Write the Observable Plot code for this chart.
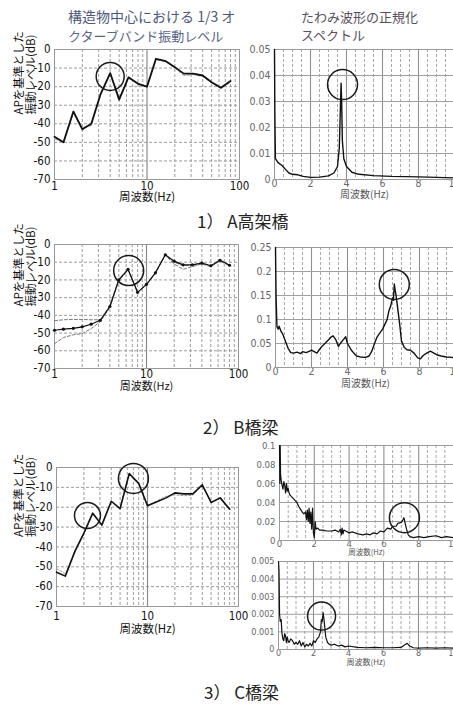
<!DOCTYPE html>
<html><head><meta charset="utf-8">
<script src="https://cdn.jsdelivr.net/npm/d3@7"></script>
<script src="https://cdn.jsdelivr.net/npm/@observablehq/plot@0.6"></script>
<style>
html,body{margin:0;padding:0;background:#fff;width:453px;height:704px;overflow:hidden;}
#root{position:relative;width:453px;height:704px;overflow:hidden;background:#fff;}
.p{position:absolute;}
.t{position:absolute;font-family:"Noto Sans CJK JP",sans-serif;white-space:nowrap;line-height:1;}
</style></head><body><div id="root"></div>
<script>
// ---------- data ----------
const bandHz = [1,1.25,1.6,2,2.5,3.15,4,5,6.3,8,10,12.5,16,20,25,31.5,40,50,63,80];
const levelA    = [-47,-50,-33.4,-43,-40,-24,-12.7,-27,-15,-18.5,-20,-5,-6.3,-9.5,-13,-13,-14,-17.6,-20.6,-17];
const levelAalt = [-48,-50,-34,-42,-41,-24.5,-13,-26,-15.5,-18,-20,-5.5,-6.5,-10,-14,-13.5,-14.5,-18,-21,-17.5];
const levelB      = [-48.4,-47.8,-47.3,-46.5,-45,-42.8,-35,-20,-14,-27,-22.5,-16,-5.8,-9.4,-11.5,-11.5,-10.5,-12,-8.9,-11.7];
const levelBupper = [-43,-42.5,-42.3,-42.3,-42.5,-42.5,-34.5,-19.5,-14,-27,-22.5,-16,-5.8,-10,-12,-11.5,-10.5,-12,-8.9,-11.7];
const levelBlower = [-56,-52.5,-51,-50.3,-47.5,-43.5,-35.5,-20.5,-14.5,-27,-22.5,-16,-6.2,-11,-14,-12.5,-11,-12.5,-9.3,-12];
const levelC    = [-52.7,-54.7,-42,-33,-23,-29,-17,-20.7,-3,-8,-19.3,-17.4,-15.3,-12.8,-13.3,-13.3,-8.7,-17.6,-15.3,-21];
const levelCalt = [-51,-53.5,-42.5,-33.5,-23.5,-28.5,-17,-20.5,-3.5,-8.5,-19,-17,-14.5,-13.8,-14.2,-14,-9,-17.5,-15.5,-21];

const dbTicks = [0,-10,-20,-30,-40,-50,-60,-70];
const logTicks = [1,10,100];
const logMinor = [2,3,4,5,6,7,8,9,20,30,40,50,60,70,80,90];
const specTicks = [0,2,4,6,8,10];
const specMajor = [2,4,6,8];
const specMinor = [0.5,1,1.5,2.5,3,3.5,4.5,5,5.5,6.5,7,7.5,8.5,9,9.5];

const ticksA = [0,0.01,0.02,0.03,0.04,0.05];
const labelsA = ["0","0.01","0.02","0.03","0.04","0.05"];
const ticksB = [0,0.05,0.1,0.15,0.2,0.25];
const labelsB = ["0","0.05","0.1","0.15","0.2","0.25"];
const ticksC1 = [0,0.02,0.04,0.06,0.08,0.1];
const labelsC1 = ["0","0.02","0.04","0.06","0.08","0.1"];
const ticksC2 = [0,0.001,0.002,0.003,0.004,0.005];
const labelsC2 = ["0","0.001","0.002","0.003","0.004","0.005"];

// spectra: [frequency Hz, normalized amplitude]
const spectrumA = [[0,0.05],[0.02,0.025],[0.05,0.008],[0.2,0.0065],[0.4,0.0055],[0.6,0.004],[0.8,0.0025],[1.0,0.002],[1.3,0.0018],[1.6,0.0012],[2,0.0008],[2.5,0.0009],[3,0.0014],[3.3,0.0025],[3.5,0.005],[3.6,0.012],[3.65,0.025],[3.7,0.037],[3.73,0.03],[3.77,0.015],[3.85,0.008],[4,0.005],[4.3,0.0028],[4.7,0.002],[5.5,0.0015],[6.5,0.0012],[8,0.001],[9,0.0008],[10,0.0006]];
const spectrumB = [[0,0.25],[0.03,0.15],[0.08,0.085],[0.15,0.08],[0.2,0.086],[0.3,0.076],[0.4,0.07],[0.5,0.06],[0.6,0.05],[0.7,0.04],[0.85,0.031],[1.0,0.03],[1.2,0.032],[1.4,0.029],[1.5,0.033],[1.7,0.031],[1.9,0.034],[2.0,0.036],[2.15,0.033],[2.3,0.03],[2.45,0.038],[2.6,0.045],[2.8,0.052],[3.0,0.06],[3.1,0.064],[3.2,0.066],[3.35,0.058],[3.5,0.044],[3.6,0.05],[3.75,0.057],[3.9,0.064],[4.0,0.05],[4.2,0.037],[4.35,0.03],[4.5,0.024],[4.7,0.022],[5.0,0.021],[5.2,0.024],[5.35,0.034],[5.5,0.05],[5.65,0.064],[5.8,0.072],[5.95,0.08],[6.1,0.092],[6.2,0.1],[6.3,0.118],[6.4,0.128],[6.5,0.145],[6.55,0.14],[6.6,0.174],[6.65,0.16],[6.7,0.15],[6.8,0.12],[6.9,0.09],[7.0,0.055],[7.15,0.042],[7.3,0.037],[7.5,0.036],[7.7,0.03],[7.9,0.02],[8.05,0.018],[8.2,0.025],[8.4,0.03],[8.6,0.034],[8.8,0.03],[9.0,0.026],[9.2,0.024],[9.5,0.022],[9.8,0.021],[10,0.018]];
const spectrumC1 = [[0,0.1],[0.02,0.06],[0.04,0.1],[0.06,0.07],[0.1,0.063],[0.15,0.058],[0.2,0.054],[0.25,0.062],[0.3,0.058],[0.35,0.05],[0.4,0.06],[0.45,0.052],[0.5,0.055],[0.55,0.05],[0.6,0.048],[0.7,0.046],[0.8,0.044],[0.9,0.042],[1.0,0.04],[1.1,0.036],[1.2,0.033],[1.3,0.03],[1.4,0.028],[1.5,0.03],[1.55,0.022],[1.6,0.032],[1.65,0.02],[1.7,0.034],[1.75,0.018],[1.8,0.03],[1.85,0.012],[1.9,0.034],[1.95,0.008],[2.0,0.003],[2.05,0.02],[2.1,0.012],[2.2,0.013],[2.3,0.011],[2.5,0.011],[2.7,0.01],[3.0,0.01],[3.2,0.011],[3.4,0.009],[3.5,0.012],[3.55,0.006],[3.6,0.013],[3.65,0.007],[3.7,0.011],[3.8,0.01],[4.0,0.008],[4.2,0.009],[4.5,0.007],[4.8,0.006],[5.0,0.007],[5.2,0.006],[5.4,0.008],[5.6,0.007],[5.8,0.01],[6.0,0.009],[6.2,0.013],[6.4,0.012],[6.5,0.015],[6.7,0.015],[6.8,0.018],[7.0,0.019],[7.1,0.022],[7.15,0.024],[7.2,0.02],[7.3,0.012],[7.4,0.006],[7.5,0.004],[7.7,0.003],[8.0,0.004],[8.3,0.003],[8.6,0.004],[9.0,0.005],[9.3,0.003],[9.6,0.004],[10,0.003]];
const spectrumC2 = [[0,0.005],[0.03,0.0045],[0.06,0.002],[0.1,0.0016],[0.15,0.0017],[0.2,0.0009],[0.25,0.0006],[0.3,0.0005],[0.35,0.0009],[0.4,0.0008],[0.45,0.0004],[0.5,0.0007],[0.55,0.0005],[0.6,0.0004],[0.7,0.0006],[0.8,0.0005],[0.9,0.0003],[1.0,0.0004],[1.1,0.0003],[1.2,0.0005],[1.3,0.0002],[1.4,0.0004],[1.5,0.00015],[1.6,0.0003],[1.7,0.0002],[1.8,0.00035],[1.9,0.0002],[2.0,0.0005],[2.1,0.0004],[2.2,0.0006],[2.3,0.0007],[2.4,0.001],[2.45,0.0017],[2.5,0.0016],[2.55,0.0021],[2.6,0.0017],[2.65,0.0012],[2.7,0.0007],[2.8,0.0004],[2.9,0.0003],[3.0,0.00025],[3.2,0.0003],[3.4,0.0002],[3.6,0.00025],[3.8,0.00015],[4.0,0.0002],[4.5,0.00012],[5.0,0.0001],[5.5,0.00012],[6.0,0.0001],[6.5,0.0001],[7.0,0.00012],[7.2,0.00025],[7.35,0.00035],[7.5,0.0002],[7.7,0.0001],[8,0.00008],[8.5,0.0001],[9,0.00008],[9.5,0.0001],[10,0.00008]];

// highlighted peaks (circled)
const peakA1 = [{f:4.0, v:-14.5}];
const peakA2 = [{f:3.78, v:0.0365}];
const peakB1 = [{f:6.4, v:-14.7}];
const peakB2 = [{f:6.6, v:0.173}];
const peakC1 = [{f:2.19, v:-24.2},{f:7.0, v:-5.5}];
const peakC2 = [{f:7.18, v:0.024}];
const peakC3 = [{f:2.46, v:0.0019}];

// ---------- helpers ----------
const root = document.getElementById("root");
const NARROW = "'Liberation Sans Narrow','DejaVu Sans Condensed','Liberation Sans',sans-serif";
const CJK = "'Noto Sans CJK JP',sans-serif";
const rows = (vals) => bandHz.map((f, i) => ({f, v: vals[i]}));
const prs = (arr) => arr.map(([f, v]) => ({f, v}));

function place(node, x, y, w, h) {
  const d = document.createElement("div");
  d.className = "p";
  d.style.left = x + "px"; d.style.top = y + "px";
  d.style.width = w + "px"; d.style.height = h + "px";
  d.appendChild(node);
  root.appendChild(d);
}
function text(str, x, y, size, color, weight) {
  const d = document.createElement("div");
  d.className = "t";
  d.textContent = str;
  d.style.left = x + "px"; d.style.top = (y - size / 2) + "px";
  d.style.fontSize = size + "px"; d.style.color = color;
  if (weight) d.style.fontWeight = weight;
  root.appendChild(d);
}

function logPanel(c) {
  const ml = 58, mr = 16, mt = 6, mb = 46;
  const W = ml + c.w + mr, H = mt + c.h + mb;
  const marks = [
    Plot.ruleY(dbTicks.filter(d => d > -70 && d < 0), {stroke: "#9c9c9c", strokeDasharray: "3,2"}),
    Plot.ruleX(logMinor, {stroke: "#9c9c9c", strokeDasharray: "3,2"}),
    Plot.ruleX([10], {stroke: "#8a8a8a", strokeWidth: 1.2}),
    Plot.frame({stroke: "#999"})
  ];
  for (const s of c.lines) {
    marks.push(Plot.line(s.data, {x: "f", y: "v", stroke: s.stroke, strokeWidth: s.width, strokeDasharray: s.dash}));
    if (s.dots) marks.push(Plot.dot(s.data, {x: "f", y: "v", r: 1.6, fill: "#111", stroke: "none"}));
  }
  for (const p of c.circles) {
    marks.push(Plot.dot([p], {x: "f", y: "v", r: p.r || 14, stroke: "#1a1a1a", strokeWidth: 1.5, fill: "none"}));
  }
  marks.push(Plot.text(["APを基準とした\n振動レベル(dB)"], {text: d => d, frameAnchor: "left", dx: c.ydx, rotate: -90, fontFamily: CJK, fontSize: 11.5, lineHeight: 0.98, fill: "#111"}));
  marks.push(Plot.text(["周波数(Hz)"], {text: d => d, frameAnchor: "bottom", dy: c.xdy, fontFamily: CJK, fontSize: c.xls || 11.5, fill: "#111"}));
  const svg = Plot.plot({
    width: W, height: H, marginLeft: ml, marginRight: mr, marginTop: mt, marginBottom: mb,
    style: {fontFamily: NARROW, fontSize: "11.5px", background: "transparent", overflow: "visible", maxWidth: "none", color: "#111"},
    x: {type: "log", domain: [1, 100], ticks: logTicks, tickFormat: d => String(d), tickSize: 0, tickPadding: c.tp, label: null},
    y: {domain: [-70, 0], ticks: dbTicks, tickFormat: d => String(d), tickSize: 0, tickPadding: 4, label: null},
    marks
  });
  place(svg, c.left - ml, c.top - mt, W, H);
}

function specPanel(c) {
  const ml = 44, mr = 12, mt = 6, mb = 30;
  const W = ml + c.w + mr, H = mt + c.h + mb;
  const marks = [
    Plot.ruleX(specMinor, {stroke: "#a8a8a8", strokeDasharray: "3,2"}),
    Plot.ruleX(specMajor, {stroke: "#909090", strokeWidth: 1.1}),
    Plot.ruleY(c.ticks.slice(1), {stroke: "#a0a0a0"}),
    Plot.frame({stroke: "#999"}),
    Plot.line(c.data, {x: "f", y: "v", stroke: "#111", strokeWidth: c.lw || 1.4, curve: "linear"})
  ];
  for (const p of c.circles) {
    marks.push(Plot.dot([p], {x: "f", y: "v", r: c.r || 14, stroke: "#1a1a1a", strokeWidth: 1.5, fill: "none"}));
  }
  marks.push(Plot.text(["周波数(Hz)"], {text: d => d, frameAnchor: "bottom", dy: c.xdy, fontFamily: CJK, fontSize: c.xls || 10, fill: "#555"}));
  const svg = Plot.plot({
    width: W, height: H, marginLeft: ml, marginRight: mr, marginTop: mt, marginBottom: mb,
    style: {fontFamily: NARROW, fontSize: (c.fs || 10.5) + "px", background: "transparent", overflow: "visible", maxWidth: "none", color: "#666"},
    x: {domain: [0, 10], ticks: specTicks, tickFormat: d => String(d), tickSize: 0, tickPadding: c.tp, label: null},
    y: {domain: [0, c.ticks[c.ticks.length - 1]], ticks: c.ticks, tickFormat: d => c.labels[c.ticks.indexOf(d)], tickSize: 0, tickPadding: 4, label: null},
    marks
  });
  place(svg, c.left - ml, c.top - mt, W, H);
}

// ---------- panels ----------
logPanel({left: 54, top: 49, w: 185, h: 130, ydx: -29, xdy: 21, tp: 2,
  lines: [
    {data: rows(levelAalt), stroke: "#999", width: 1, dash: "3,2"},
    {data: rows(levelA), stroke: "#111", width: 1.8}
  ],
  circles: [{...peakA1[0], r: 14}]});
specPanel({left: 274, top: 49, w: 180, h: 130, ticks: ticksA, labels: labelsA, data: prs(spectrumA), circles: peakA2, r: 15, tp: 0, xdy: 18});

logPanel({left: 54, top: 244, w: 184, h: 124, ydx: -29, xdy: 21, tp: 1, xls: 11,
  lines: [
    {data: rows(levelBupper), stroke: "#777", width: 1, dash: "3,2"},
    {data: rows(levelBlower), stroke: "#777", width: 1, dash: "3,2"},
    {data: rows(levelB), stroke: "#111", width: 1.2, dots: true}
  ],
  circles: [{...peakB1[0], r: 15}]});
specPanel({left: 275, top: 247, w: 180, h: 120, ticks: ticksB, labels: labelsB, data: prs(spectrumB), circles: peakB2, r: 15, tp: 0, xdy: 19});

logPanel({left: 56, top: 467, w: 182, h: 139, ydx: -31, xdy: 26, tp: 5,
  lines: [
    {data: rows(levelCalt), stroke: "#999", width: 1, dash: "2,2"},
    {data: rows(levelC), stroke: "#111", width: 1.6}
  ],
  circles: [{...peakC1[0], r: 13}, {...peakC1[1], r: 15}]});
specPanel({left: 279, top: 445, w: 174, h: 95, ticks: ticksC1, labels: labelsC1, data: prs(spectrumC1), circles: peakC2, r: 15, tp: 0, xdy: 14, fs: 9.5, xls: 7.5, lw: 1.2});
specPanel({left: 278, top: 561, w: 175, h: 88, ticks: ticksC2, labels: labelsC2, data: prs(spectrumC2), circles: peakC3, r: 14, tp: 0, xdy: 15, fs: 9, xls: 8, lw: 1.2});

// ---------- titles and captions ----------
text("構造物中心における 1/3 オ", 68, 16, 14, "#4c5878");
text("クターブバンド振動レベル", 68, 35, 13, "#5a6488");
text("たわみ波形の正規化", 301, 16, 13, "#574f5c");
text("スペクトル", 301, 34, 13, "#574f5c");
text("1） A高架橋", 197, 220, 17, "#222");
text("2） B橋梁", 203, 426, 17, "#222");
text("3） C橋梁", 204, 691, 17, "#222");
</script>
</body></html>
